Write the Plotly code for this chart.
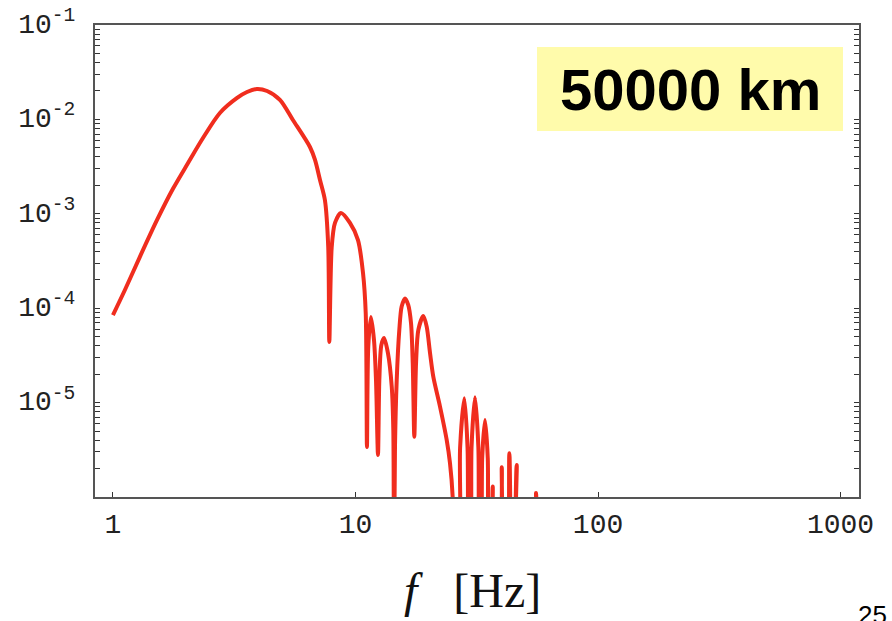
import plotly.graph_objects as go

# ---- data ----
freq_hz = [
    1.00, 1.12, 1.29, 1.52, 1.77, 2.04, 2.35, 2.76, 3.25, 3.57, 3.92, 4.32, 4.88, 5.52,
    6.49, 6.81, 7.14, 7.48, 7.72, 7.80, 7.98, 8.23, 8.71, 9.49, 10.24, 10.74, 11.02,
    11.15, 11.29, 11.58, 11.92, 12.15, 12.38, 12.54, 12.78, 13.11, 13.61, 14.11, 14.32,
    14.41, 14.55, 14.79, 15.16, 15.50, 16.00, 16.51, 16.94, 17.22, 17.48, 17.77, 18.16,
    19.04, 19.66, 20.29, 20.93, 22.31, 23.77, 24.53, 25.16, 25.5,
    26.5, 27.0, 28.1, 28.97, 29.5,
    29.7, 30.1, 31.1, 32.1, 32.6,
    32.8, 33.3, 34.2, 35.1, 35.6,
    35.9, 36.8, 37.6,
    39.2, 40.1, 41.0,
    41.8, 43.1, 44.4,
    44.6, 46.2, 47.7,
    54.4, 55.5, 56.5,
]
power = [
    8.47e-5, 1.56e-4, 3.48e-4, 8.6e-4, 1.85e-3, 3.45e-3, 6.35e-3, 1.17e-2, 1.69e-2, 1.95e-2,
    2.10e-2, 2.00e-2, 1.61e-2, 9.86e-3, 5.1e-3, 3.72e-3, 2.28e-3, 1.40e-3, 4.45e-4, 4.39e-5,
    4.45e-4, 8.0e-4, 1.02e-3, 8.0e-4, 5.27e-4, 2.36e-4, 8.89e-5,
    3.39e-6, 3.91e-5, 8.07e-5, 4.6e-5, 1.73e-5, 2.79e-6, 1.73e-5, 4.07e-5, 4.83e-5, 3.35e-5,
    1.47e-5, 5.13e-6,
    1e-7, 3.41e-6, 1.73e-5, 5.88e-5, 1.04e-4, 1.27e-4, 1.08e-4, 6.97e-5, 2.62e-5, 4.35e-6,
    2.62e-5, 5.88e-5,
    8.26e-5, 6.37e-5, 3.35e-5, 1.88e-5, 9.06e-6, 4.02e-6, 2.28e-6, 1.0e-6, 1e-7,
    1e-7, 3.34e-6, 1.11e-5, 3.34e-6, 1e-7,
    1e-7, 3.39e-6, 1.14e-5, 3.39e-6, 1e-7,
    1e-7, 2.59e-6, 6.55e-6, 2.59e-6, 1e-7,
    1e-7, 1.29e-6, 1e-7,
    1e-7, 2.07e-6, 1e-7,
    1e-7, 2.90e-6, 1e-7,
    1e-7, 2.18e-6, 1e-7,
    1e-7, 1.1e-6, 1e-7,
]

x_tick_vals = [1, 10, 100, 1000]
x_tick_text = ["1", "10", "100", "1000"]
y_decade_exp = [-5, -4, -3, -2, -1]
y_decade_text = ["10<sup>-5</sup>", "10<sup>-4</sup>", "10<sup>-3</sup>", "10<sup>-2</sup>", "10<sup>-1</sup>"]
label_text = "50000 km"
x_title = "<i>f</i>   [Hz]"
page_number = "25"

# y ticks: every 1..9 x 10^k, labelled only on decades
y_tick_vals = []
y_tick_text = []
for k in range(-6, 0):
    for m in range(1, 10):
        if k == -1 and m > 1:
            break
        y_tick_vals.append(m * 10.0 ** k)
        if m == 1 and k in y_decade_exp:
            y_tick_text.append(y_decade_text[y_decade_exp.index(k)])
        else:
            y_tick_text.append("")

fig = go.Figure()
fig.add_trace(go.Scatter(
    x=freq_hz, y=power, mode="lines",
    line=dict(color="#f02d1e", width=4, shape="spline", smoothing=0.8),
    hoverinfo="skip", showlegend=False,
))

W, H = 892, 621
L, R, T, B = 95, 33, 25, 124
pw, ph = W - L - R, H - T - B

def px_x(p):
    return (p - L) / pw

def px_y(p):
    return (H - B - p) / ph

fig.update_layout(
    width=W, height=H,
    margin=dict(l=L, r=R, t=T, b=B, autoexpand=False),
    paper_bgcolor="white", plot_bgcolor="white",
    font=dict(family="Liberation Mono", color="#222222"),
    xaxis=dict(
        type="log", range=[-0.074, 3.076], automargin=False,
        tickvals=x_tick_vals, ticktext=x_tick_text,
        ticks="inside", ticklen=5, tickwidth=1, tickcolor="#333",
        showline=True, linecolor="#555", linewidth=2, mirror=True,
        showgrid=False, zeroline=False,
        tickfont=dict(family="Liberation Mono", size=28, color="#222"),
        ticklabelstandoff=0,
    ),
    yaxis=dict(
        type="log", range=[-6, -1], automargin=False,
        tickvals=y_tick_vals, ticktext=y_tick_text,
        ticks="inside", ticklen=5, tickwidth=1, tickcolor="#333",
        showline=True, linecolor="#555", linewidth=2, mirror="ticks",
        showgrid=False, zeroline=False,
        tickfont=dict(family="Liberation Mono", size=28, color="#222"),
        ticklabelstandoff=12, ticklabelshift=-2, ticklabeloverflow="allow",
    ),
    shapes=[dict(
        type="rect", xref="paper", yref="paper",
        x0=px_x(537), x1=px_x(843), y0=px_y(131), y1=px_y(47),
        fillcolor="#fffbab", line=dict(width=0), layer="above",
    )],
    annotations=[
        dict(text=label_text, xref="paper", yref="paper",
             x=px_x(690), y=px_y(90), xanchor="center", yanchor="middle",
             showarrow=False,
             font=dict(family="Liberation Sans", size=58, color="black", weight="bold")),
        dict(text=x_title, xref="paper", yref="paper",
             x=px_x(472), y=px_y(590), xanchor="center", yanchor="middle",
             showarrow=False, font=dict(family="Liberation Serif", size=48, color="#111")),
        dict(text=page_number, xref="paper", yref="paper",
             x=px_x(856), y=px_y(598), xanchor="left", yanchor="top",
             showarrow=False, font=dict(family="Liberation Sans", size=26, color="black")),
    ],
)

fig.write_html("out.html")
